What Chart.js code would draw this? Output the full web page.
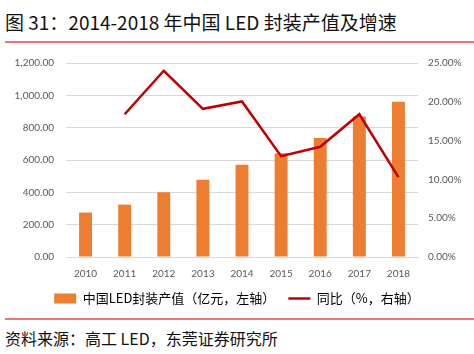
<!DOCTYPE html>
<html lang="zh">
<head>
<meta charset="UTF-8" />
<title>LED 封装产值</title>
<script src="https://cdn.jsdelivr.net/npm/chart.js"></script>
<style>
  body { margin: 0; background: #fff; width: 474px; height: 354px; overflow: hidden; position: relative; font-family: "Noto Sans CJK SC", sans-serif; }
  #titre { position: absolute; left: 5px; top: 8px; font-size: 19px; color: #111; white-space: nowrap; line-height: 28px; }
  .rouge { position: absolute; left: 5px; width: 469px; height: 2px; background: #E8767A; }
  #boite { position: absolute; left: 0; top: 45px; width: 474px; height: 272px; }
  #source { position: absolute; left: 5px; top: 326px; font-size: 16px; color: #111; white-space: nowrap; line-height: 24px; }
</style>
</head>
<body>
<div id="titre">图 31：2014-2018 年中国 LED 封装产值及增速</div>
<div class="rouge" style="top:41px"></div>
<div id="boite"><canvas id="graphe"></canvas></div>
<div class="rouge" style="top:318px"></div>
<div id="source">资料来源：高工 LED，东莞证券研究所</div>

<script>
// donnees
const annees = ['2010', '2011', '2012', '2013', '2014', '2015', '2016', '2017', '2018'];
const production = [275, 324, 400, 478, 571, 642, 736, 869, 961];   // 亿元
const croissance = [null, 18.4, 24.0, 19.1, 20.05, 13.0, 14.2, 18.4, 10.3]; // %
const ticksGauche = [0, 200, 400, 600, 800, 1000, 1200];
const ticksDroite = [0, 5, 10, 15, 20, 25];

const police = 'Lato, "Open Sans", sans-serif';

var ctx = document.getElementById('graphe').getContext('2d');
var myChart = new Chart(ctx, {
  data: {
    labels: annees,
    datasets: [{
      type: 'bar',
      label: '中国LED封装产值（亿元，左轴）',
      data: production,
      backgroundColor: '#ED7D31',
      barPercentage: 0.33,
      categoryPercentage: 1,
      yAxisID: 'y',
      order: 2
    }, {
      type: 'line',
      label: '同比（%，右轴）',
      data: croissance,
      borderColor: '#C00000',
      borderWidth: 2.5,
      pointRadius: 0,
      tension: 0,
      yAxisID: 'y2',
      order: 1
    }]
  },
  options: {
    responsive: true,
    maintainAspectRatio: false,
    animation: false,
    layout: { padding: { top: 8, bottom: 2 } },
    plugins: {
      tooltip: { enabled: false },
      legend: {
        position: 'bottom',
        labels: {
          usePointStyle: true,
          pointStyleWidth: 22,
          boxHeight: 10,
          padding: 13,
          color: '#404040',
          font: { family: '"Noto Sans CJK SC", sans-serif', size: 13 },
          generateLabels: function (chart) {
            return [
              { text: '中国LED封装产值（亿元，左轴）', fillStyle: '#ED7D31', strokeStyle: '#ED7D31', lineWidth: 0, pointStyle: 'rect', datasetIndex: 0 },
              { text: '同比（%，右轴）', fillStyle: '#C00000', strokeStyle: '#C00000', lineWidth: 2.5, pointStyle: 'line', datasetIndex: 1 }
            ];
          }
        }
      }
    },
    scales: {
      x: {
        grid: { display: false },
        border: { display: true, color: '#D9D9D9' },
        ticks: { color: '#595959', font: { family: police, size: 10 }, padding: 3 },
        afterFit: function (scale) { scale.height = 22; }
      },
      y: {
        position: 'left',
        min: 0, max: 1200,
        afterBuildTicks: function (scale) { scale.ticks = ticksGauche.map(v => ({ value: v })); },
        grid: { color: '#D9D9D9', drawTicks: false },
        border: { display: false },
        ticks: {
          color: '#595959', font: { family: police, size: 10 }, padding: 12,
          callback: v => v.toLocaleString('en-US', { minimumFractionDigits: 2, maximumFractionDigits: 2 })
        },
        afterFit: function (scale) { scale.width = 66; }
      },
      y2: {
        position: 'right',
        min: 0, max: 25,
        afterBuildTicks: function (scale) { scale.ticks = ticksDroite.map(v => ({ value: v })); },
        grid: { display: false, drawTicks: false },
        border: { display: false },
        ticks: {
          color: '#595959', font: { family: police, size: 10 }, padding: 10,
          callback: v => v.toFixed(2) + '%'
        },
        afterFit: function (scale) { scale.width = 56; }
      }
    }
  }
});
</script>
</body>
</html>
